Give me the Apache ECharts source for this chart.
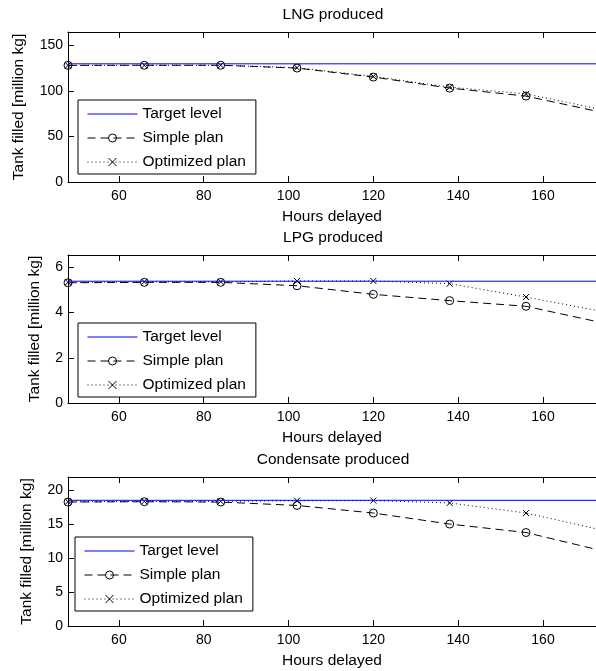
<!DOCTYPE html>
<html>
<head>
<meta charset="utf-8">
<script src="https://cdn.jsdelivr.net/npm/echarts@6/dist/echarts.min.js"></script>
<style>
  html, body { margin: 0; padding: 0; background: #fff; }
  #chart { width: 596px; height: 671px; }
</style>
</head>
<body>
<div id="chart"></div>
<script>
// hours delayed (x) shared by all three panels
var hours = [48, 66, 84, 102, 120, 138, 156, 174];
var xTicks = [60, 80, 100, 120, 140, 160];

var lngTarget = 130;
var lngSimple = [128.3, 128.4, 128.4, 125.3, 115.4, 103.3, 94.5, 76.5];
var lngOptimized = [128.3, 128.4, 128.4, 125.8, 116.2, 104.3, 97, 79.5];
var lngTicks = [0, 50, 100, 150];

var lpgTarget = 5.39;
var lpgSimple = [5.32, 5.34, 5.34, 5.19, 4.81, 4.53, 4.28, 3.55];
var lpgOptimized = [5.34, 5.36, 5.36, 5.40, 5.40, 5.28, 4.69, 4.05];
var lpgTicks = [0, 2, 4, 6];

var condTarget = 18.56;
var condSimple = [18.3, 18.35, 18.3, 17.8, 16.68, 15.05, 13.8, 11.1];
var condOptimized = [18.35, 18.4, 18.4, 18.5, 18.52, 18.17, 16.68, 14.15];
var condTicks = [0, 5, 10, 15, 20];

var titles = ['LNG produced', 'LPG produced', 'Condensate produced'];

var chart = echarts.init(document.getElementById('chart'));

var FONT = 'Liberation Sans';
var X_MIN = 48, X_MAX = 172.5;

function pairs(ys) {
    return hours.map(function (h, i) { return [h, ys[i]]; });
}

var grids = [], xAxes = [], yAxes = [], series = [], legends = [], titleList = [];

function addPanel(i, cfg) {
    grids.push({ left: 68, top: cfg.top, width: 530, height: cfg.height });
    // bottom axis with labels
    xAxes.push({
        type: 'value', gridIndex: i, min: X_MIN, max: X_MAX,
        name: 'Hours delayed', nameLocation: 'middle', nameGap: 27,
        nameTextStyle: { color: '#000', fontFamily: FONT, fontSize: 15.5 },
        axisLine: { lineStyle: { color: '#000', width: 1 } },
        axisTick: { inside: true, length: 6, customValues: xTicks, lineStyle: { color: '#000' } },
        axisLabel: { customValues: xTicks, margin: 7, color: '#000', fontFamily: FONT, fontSize: 14 },
        splitLine: { show: false }
    });
    // top frame with inward ticks
    xAxes.push({
        type: 'value', gridIndex: i, min: X_MIN, max: X_MAX, position: 'top',
        axisLine: { onZero: false, lineStyle: { color: '#000', width: 1 } },
        axisTick: { inside: true, length: 6, customValues: xTicks, lineStyle: { color: '#000' } },
        axisLabel: { show: false },
        splitLine: { show: false }
    });
    yAxes.push({
        type: 'value', gridIndex: i, min: 0, max: cfg.yMax,
        name: 'Tank filled [million kg]', nameLocation: 'middle', nameGap: cfg.nameGap,
        nameTextStyle: { color: '#000', fontFamily: FONT, fontSize: 15.5 },
        axisLine: { show: true, lineStyle: { color: '#000', width: 1 } },
        axisTick: { show: true, inside: true, length: 6, customValues: cfg.ticks, lineStyle: { color: '#000' } },
        axisLabel: { customValues: cfg.ticks, margin: 5, color: '#000', fontFamily: FONT, fontSize: 14 },
        splitLine: { show: false }
    });
    var xi = i * 2;
    series.push({
        name: 'Simple plan', type: 'line', xAxisIndex: xi, yAxisIndex: i,
        data: pairs(cfg.simple),
        symbol: 'circle', symbolSize: 8, showSymbol: true,
        lineStyle: { color: '#000', width: 1, type: [8, 5] },
        itemStyle: { color: 'transparent', borderColor: '#000', borderWidth: 1 }, z: 3
    });
    series.push({
        name: 'Optimized plan', type: 'line', xAxisIndex: xi, yAxisIndex: i,
        data: pairs(cfg.optimized),
        symbol: 'path://M0,0L10,10M10,0L0,10', symbolSize: 6, showSymbol: true,
        lineStyle: { color: '#000', width: 1, type: [1, 3] },
        itemStyle: { color: 'transparent', borderColor: '#000', borderWidth: 1 }, z: 4
    });
    series.push({
        name: 'Target level', type: 'line', xAxisIndex: xi, yAxisIndex: i,
        data: hours.map(function (h) { return [h, cfg.target]; }),
        symbol: 'none', lineStyle: { color: '#0000ff', width: 1 },
        itemStyle: { color: '#0000ff' }, z: 5
    });
    legends.push({
        orient: 'vertical', left: cfg.legendLeft, top: cfg.legendTop,
        data: [
            { name: 'Target level', itemStyle: { opacity: 0 } },
            { name: 'Simple plan' },
            { name: 'Optimized plan' }
        ],
        backgroundColor: '#fff', borderColor: '#000', borderWidth: 1, borderRadius: 0,
        padding: [6, 10, 4, 9], itemGap: 8, itemWidth: 50, itemHeight: 10,
        selectedMode: false,
        lineStyle: { width: 1 },
        itemStyle: { borderWidth: 1 },
        textStyle: { color: '#000', fontFamily: FONT, fontSize: 15.5 }
    });
    titleList.push({
        text: titles[i], left: 333, top: cfg.titleTop, textAlign: 'center', padding: 0,
        textStyle: { color: '#000', fontFamily: FONT, fontSize: 15.5, fontWeight: 'normal' }
    });
}

addPanel(0, { top: 32, height: 150, yMax: 165, ticks: lngTicks, nameGap: 41,
    target: lngTarget, simple: lngSimple, optimized: lngOptimized,
    legendLeft: 78, legendTop: 100, titleTop: 7 });
addPanel(1, { top: 255, height: 148, yMax: 6.55, ticks: lpgTicks, nameGap: 25,
    target: lpgTarget, simple: lpgSimple, optimized: lpgOptimized,
    legendLeft: 78, legendTop: 323, titleTop: 230 });
addPanel(2, { top: 477, height: 149, yMax: 22, ticks: condTicks, nameGap: 33,
    target: condTarget, simple: condSimple, optimized: condOptimized,
    legendLeft: 75, legendTop: 537, titleTop: 452 });

chart.setOption({
    animation: false,
    backgroundColor: '#fff',
    title: titleList,
    grid: grids,
    xAxis: xAxes,
    yAxis: yAxes,
    legend: legends,
    series: series
});
</script>
</body>
</html>
